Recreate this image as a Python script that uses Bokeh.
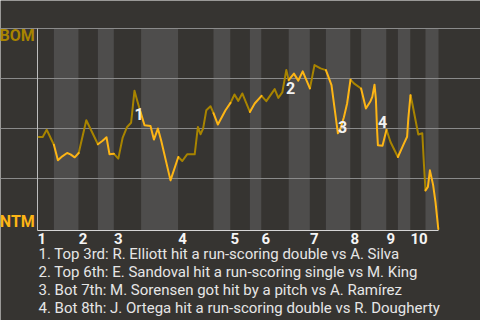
from bokeh.plotting import figure
from bokeh.models import Range1d, FixedTicker, Label
from bokeh.embed import file_html
from bokeh.resources import INLINE

# ---------------- data ----------------
inning_labels = ["1", "2", "3", "4", "5", "6", "7", "8", "9", "10"]
# half-inning boundaries on the game-progress axis (top 1st, bot 1st, ...)
half_bounds = [0, 4.1, 10.3, 15.1, 19.1, 25.9, 35.2, 44.0, 48.25, 53.1, 56.0,
               62.8, 68.1, 72.1, 78.25, 80.9, 87.25, 90.1, 93.25, 97.0, 100.25]

# BOM win probability over game progress
wp_x = [0.3, 1.3, 2.3, 4.1, 5.1, 6.2, 7.4, 8.25, 9.3, 10.3,
        12.2, 15.1, 16.2, 17.25, 18.0, 19.1, 20.2, 21.3, 22.4, 23.4,
        24.25, 24.9, 25.75, 26.75, 28.25, 29.1, 30.1, 30.9, 33.25, 35.2,
        36.2, 37.4, 39.3, 40.1, 40.75, 41.4, 42.2, 43.25, 44.0, 45.1,
        47.0, 48.25, 49.25, 50.2, 51.2, 53.1, 54.3, 56.0, 57.2, 59.3,
        60.2, 61.2, 62.2, 62.8, 64.1, 65.2, 66.3, 68.1, 69.25, 70.75,
        72.1, 73.5, 75.1, 75.6, 76.6, 77.4, 78.25, 79.1, 80.9, 82.1,
        83.25, 83.7, 84.25, 84.6, 84.9, 85.1, 86.25, 87.25, 88.25, 90.1,
        91.6, 92.4, 92.7, 93.25, 93.7, 95.2, 96.2, 96.6, 97.0, 97.6,
        98.1, 98.9, 99.5, 100.2]
wp_y = [0.459, 0.459, 0.495, 0.42, 0.3425, 0.3625, 0.379, 0.3725, 0.3575, 0.379,
        0.5425, 0.4225, 0.439, 0.4575, 0.3725, 0.375, 0.351, 0.456, 0.509, 0.53,
        0.69, 0.6425, 0.584, 0.5175, 0.514, 0.446, 0.501, 0.4425, 0.2425, 0.359,
        0.339, 0.3725, 0.3725, 0.509, 0.4725, 0.501, 0.5925, 0.6125, 0.5775, 0.521,
        0.5925, 0.629, 0.671, 0.639, 0.676, 0.584, 0.626, 0.664, 0.6375, 0.6975,
        0.654, 0.681, 0.7925, 0.7425, 0.775, 0.74, 0.786, 0.701, 0.8175, 0.801,
        0.7925, 0.7175, 0.4775, 0.4925, 0.5575, 0.626, 0.745, 0.726, 0.701, 0.601,
        0.6375, 0.659, 0.72, 0.6475, 0.4925, 0.4175, 0.415, 0.495, 0.434, 0.359,
        0.426, 0.46, 0.551, 0.6675, 0.626, 0.471, 0.4775, 0.326, 0.1925, 0.21,
        0.2925, 0.22, 0.134, 0.0]

event_nums = ["1", "2", "3", "4"]
event_x = [25.4, 63.25, 76.25, 86.25]
event_y = [0.5711, 0.7008, 0.5078, 0.5312]
event_texts = [
    "1. Top 3rd: R. Elliott hit a run-scoring double vs A. Silva",
    "2. Top 6th: E. Sandoval hit a run-scoring single vs M. King",
    "3. Bot 7th: M. Sorensen got hit by a pitch vs A. Ram\u00edrez",
    "4. Bot 8th: J. Ortega hit a run-scoring double vs R. Dougherty",
]
team_top = "BOM"
team_bottom = "NTM"

# ---------------- style ----------------
BG = "#363431"
STRIPE = "#4e4d4c"
DARK_GOLD = "#a88400"
BRIGHT_GOLD = "#fdb515"
FONT = "Roboto"
Y0 = -0.0075
X_END = 100.25

# frame covers the whole canvas; the chart region is 0..X_END x Y0..1
p = figure(width=480, height=320,
           x_range=Range1d(-9.25, 110.75), y_range=Range1d(-0.45636, 1.13965),
           output_backend="svg", toolbar_location=None,
           min_border=0,
           background_fill_color=BG, border_fill_color=BG,
           outline_line_color=None)
p.axis.visible = False
p.xgrid.visible = False
p.ygrid.ticker = FixedTicker(ticks=[0.25, 0.5, 0.75, 1.0])
p.ygrid.bounds = (0, X_END)
p.ygrid.grid_line_color = "#8a8a8a"
p.ygrid.grid_line_width = 1

# half-inning stripes
lefts = half_bounds[:-1]
rights = half_bounds[1:]
colors = [BG if i % 2 == 0 else STRIPE for i in range(len(lefts))]
p.quad(left=lefts, right=rights, bottom=Y0, top=1.0, fill_color=colors,
       line_color=None, level="image")

# axis lines
p.segment(x0=[0], y0=[Y0], x1=[0], y1=[1.0], line_color="#bdbdbd", line_width=1)
p.segment(x0=[0], y0=[Y0], x1=[X_END], y1=[Y0], line_color="#d5d5d5", line_width=1)

# line split by half-inning (top = dark gold, bottom = bright gold)
def half_index(xm):
    for i in range(len(half_bounds) - 1):
        if half_bounds[i] <= xm < half_bounds[i + 1]:
            return i
    return len(half_bounds) - 2

groups = {0: ([], []), 1: ([], [])}
cur = None
for i in range(len(wp_x) - 1):
    h = half_index((wp_x[i] + wp_x[i + 1]) / 2) % 2
    gx, gy = groups[h]
    if h != cur:
        gx.append([wp_x[i]])
        gy.append([wp_y[i]])
        cur = h
    gx[-1].append(wp_x[i + 1])
    gy[-1].append(wp_y[i + 1])

p.multi_line(groups[0][0], groups[0][1], line_color=DARK_GOLD, line_width=2,
             line_join="round", line_cap="round")
p.multi_line(groups[1][0], groups[1][1], line_color=BRIGHT_GOLD, line_width=2,
             line_join="round", line_cap="round")

# event markers on the chart
for n, ex, ey in zip(event_nums, event_x, event_y):
    p.add_layout(Label(x=ex, y=ey, text=n, text_align="center",
                       text_baseline="alphabetic", text_font=FONT,
                       text_font_style="bold", text_font_size="16px",
                       text_color="#f2f2f2"))

# team labels
p.add_layout(Label(x=-0.675, y=0.9636, text=team_top, text_align="right",
                   text_baseline="alphabetic", text_font=FONT,
                   text_font_style="bold", text_font_size="16px",
                   text_color=DARK_GOLD))
p.add_layout(Label(x=-0.675, y=0.0375, text=team_bottom, text_align="right",
                   text_baseline="alphabetic", text_font=FONT,
                   text_font_style="bold", text_font_size="16px",
                   text_color=BRIGHT_GOLD))

# inning labels
inning_starts = half_bounds[0::2][:10]
for lab, sx in zip(inning_labels, inning_starts):
    p.add_layout(Label(x=sx, y=-0.0458, text=lab, text_align="left",
                       text_baseline="alphabetic", text_font=FONT,
                       text_font_style="bold", text_font_size="15px",
                       text_color="#f5f5f5"))

# event descriptions
for k, t in enumerate(event_texts):
    p.add_layout(Label(x=0.25, y=-0.1271 - k * 0.0898, text=t,
                       text_align="left", text_baseline="alphabetic",
                       text_font=FONT, text_font_size="15px",
                       text_color="#e6e6e6"))

open("out.html", "w").write(file_html(p, INLINE))
